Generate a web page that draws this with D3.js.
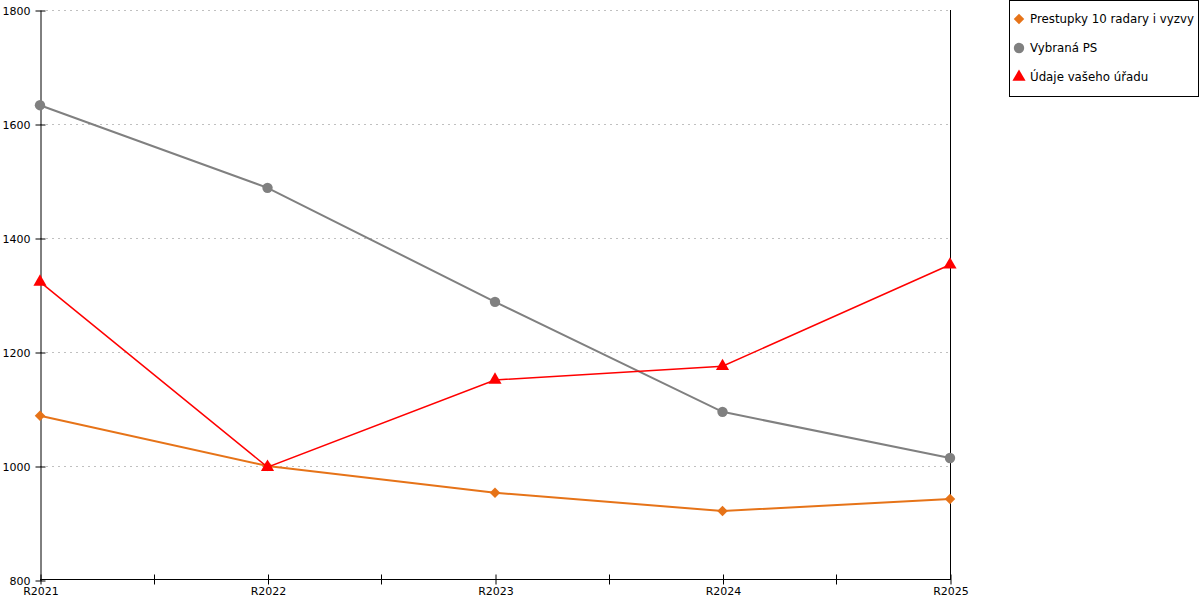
<!doctype html>
<meta charset="utf-8">
<style>
  body { margin: 0; background: #fff; }
  text { font-family: "DejaVu Sans", Verdana, sans-serif; }
</style>
<body>
<script src="https://d3js.org/d3.v7.min.js"></script>
<script>
var categories = ['R2021', 'R2022', 'R2023', 'R2024', 'R2025'];
var yTicks = [800, 1000, 1200, 1400, 1600, 1800];
var seriesNames = ['Prestupky 10 radary i vyzvy', 'Vybraná PS', 'Údaje vašeho úřadu'];
var prestupky = [1088, 1000, 953, 921, 942];
var vybranaPS = [1633, 1488, 1288, 1095, 1014];
var udaje = [1323, 998, 1151, 1175, 1353];

var series = [
  { name: seriesNames[0], values: prestupky, color: '#e67318', symbol: d3.symbolSquare, size: 55, rotate: 45, width: 2 },
  { name: seriesNames[1], values: vybranaPS, color: '#808080', symbol: d3.symbolCircle, size: 85, rotate: 0, width: 2 },
  { name: seriesNames[2], values: udaje, color: '#ff0000', symbol: d3.symbolTriangle, size: 75, rotate: 0, width: 1.5 }
];

var W = 1200, H = 600,
  pLeft = 40, pRight = 950, pTop = 10, pBottom = 580;

var svg = d3.select('body').append('svg').attr('width', W).attr('height', H);

var x = d3.scalePoint().domain(categories).range([pLeft, pRight]);
var y = d3.scaleLinear().domain([800, 1800]).range([pBottom, pTop]);

// grid
svg.append('g')
  .selectAll('line')
  .data(yTicks.slice(1))
  .enter().append('line')
    .attr('x1', pLeft).attr('x2', pRight)
    .attr('y1', function(d){ return y(d) + 0.5; })
    .attr('y2', function(d){ return y(d) + 0.5; })
    .attr('stroke', '#c0c0c0')
    .attr('stroke-dasharray', '2,4');

// y axis
var yAxis = svg.append('g')
  .attr('transform', 'translate(' + (pLeft + 0.5) + ',0.5)')
  .call(d3.axisLeft(y).tickValues(yTicks).tickFormat(d3.format('d'))
    .tickSize(5).tickSizeOuter(0).tickPadding(5));
yAxis.selectAll('.tick line').attr('x2', 5).attr('x1', -5);

// right line
svg.append('line')
  .attr('x1', pRight + 0.5).attr('x2', pRight + 0.5)
  .attr('y1', pTop).attr('y2', pBottom)
  .attr('stroke', '#000');

// x axis with minor ticks
var minor = [];
for (var i = 0; i < categories.length - 1; i++) {
  minor.push((x(categories[i]) + x(categories[i + 1])) / 2);
}
var xAxis = svg.append('g')
  .attr('transform', 'translate(0.5,' + (pBottom - 0.5) + ')')
  .call(d3.axisBottom(x).tickSize(5).tickSizeOuter(0).tickPadding(3));
xAxis.selectAll('.tick line').attr('y1', -5).attr('y2', 5);
xAxis.select('.domain').attr('d', 'M' + (pLeft - 0.5) + ',0H' + (pRight + 0.5));
xAxis.selectAll('.minor')
  .data(minor)
  .enter().append('line')
    .attr('class', 'minor')
    .attr('x1', function(d){ return Math.round(d); })
    .attr('x2', function(d){ return Math.round(d); })
    .attr('y1', -5).attr('y2', 5)
    .attr('stroke', '#000');

svg.selectAll('.tick text').style('font-size', '11px').attr('fill', '#000');
svg.selectAll('.domain, .tick line').attr('stroke', '#000');

// lines and markers
var line = d3.line()
  .x(function(d, i){ return x(categories[i]); })
  .y(function(d){ return y(d); });

series.forEach(function(s){
  var g = svg.append('g');
  g.append('path')
    .attr('d', line(s.values))
    .attr('fill', 'none')
    .attr('stroke', s.color)
    .attr('stroke-width', s.width);
  g.selectAll('path.mark')
    .data(s.values)
    .enter().append('path')
      .attr('class', 'mark')
      .attr('d', d3.symbol().type(s.symbol).size(s.size))
      .attr('transform', function(d, i){
        return 'translate(' + x(categories[i]) + ',' + y(d) + ') rotate(' + s.rotate + ')';
      })
      .attr('fill', s.color);
});

// legend
var legend = svg.append('g');
legend.append('rect')
  .attr('x', 1009.5).attr('y', 0.5)
  .attr('width', 189).attr('height', 96)
  .attr('fill', '#fff').attr('stroke', '#000');
series.forEach(function(s, i){
  var ly = 19 + i * 29;
  legend.append('path')
    .attr('d', d3.symbol().type(s.symbol).size(s.size))
    .attr('transform', 'translate(1019,' + ly + ') rotate(' + s.rotate + ')')
    .attr('fill', s.color);
  legend.append('text')
    .attr('x', 1030).attr('y', ly + 4)
    .style('font-size', '11.8px')
    .text(s.name);
});
</script>
</body>
